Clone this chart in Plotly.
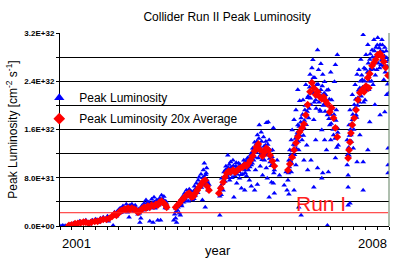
import plotly.graph_objects as go

# ---------------- data (luminosity in units of 1E30 cm^-2 s^-1) ----------------
blue_year = [
    2001.02, 2001.06, 2001.11, 2001.17, 2001.23, 2001.29, 2001.34, 2001.38, 2001.42, 2001.46,
    2001.50, 2001.55, 2001.59, 2001.63, 2001.65, 2001.69, 2001.71, 2001.76, 2001.80, 2001.82,
    2001.86, 2001.90, 2001.92, 2001.97, 2002.01, 2002.03, 2002.07, 2002.11, 2002.13,
    2002.16, 2002.20, 2002.22, 2002.26, 2002.28, 2002.32, 2002.34, 2002.39, 2002.41, 2002.43,
    2002.45, 2002.47, 2002.49, 2002.51, 2002.53, 2002.55, 2002.58, 2002.60, 2002.62, 2002.66,
    2002.68, 2002.70, 2002.72, 2002.74, 2002.76, 2002.79, 2002.81, 2002.83, 2002.85, 2002.87,
    2002.89, 2002.91, 2002.93, 2002.95, 2002.98, 2003.00, 2003.02, 2003.04, 2003.06, 2003.08,
    2003.10, 2003.12, 2003.14, 2003.16, 2003.19, 2003.21, 2003.23, 2003.25, 2003.27,
    2003.42, 2003.44, 2003.46, 2003.46, 2003.48, 2003.50, 2003.52, 2003.54, 2003.56, 2003.56,
    2003.59, 2003.61, 2003.63, 2003.65, 2003.67, 2003.69, 2003.71, 2003.73, 2003.75, 2003.77,
    2003.80, 2003.82, 2003.84, 2003.86, 2003.88, 2003.90, 2003.92, 2003.94, 2003.96, 2003.98,
    2004.00, 2004.03, 2004.03, 2004.05, 2004.07, 2004.07, 2004.09, 2004.09, 2004.11, 2004.13,
    2004.15, 2004.17,
    2004.40, 2004.40, 2004.42, 2004.44, 2004.47, 2004.49, 2004.51, 2004.53, 2004.55, 2004.57,
    2004.59, 2004.61, 2004.63, 2004.65, 2004.68, 2004.70, 2004.72, 2004.74, 2004.76, 2004.78,
    2004.80, 2004.82, 2004.84, 2004.86, 2004.89, 2004.91, 2004.93, 2004.93, 2004.95, 2004.97,
    2004.99, 2005.01, 2005.03, 2005.05, 2005.07, 2005.07, 2005.10, 2005.12, 2005.14, 2005.14,
    2005.16, 2005.18, 2005.20, 2005.20, 2005.22, 2005.24, 2005.24, 2005.26, 2005.28, 2005.28,
    2005.31, 2005.33, 2005.35, 2005.37, 2005.39, 2005.39, 2005.41, 2005.43, 2005.43, 2005.45,
    2005.45, 2005.47, 2005.50, 2005.52, 2005.54, 2005.54, 2005.56, 2005.56, 2005.62, 2005.67,
    2005.77, 2005.81,
    2005.83, 2005.85, 2005.87, 2005.87, 2005.89, 2005.92, 2005.92, 2005.94, 2005.96, 2005.98,
    2005.98, 2006.00, 2006.02, 2006.02, 2006.04, 2006.06, 2006.06, 2006.08, 2006.08, 2006.10,
    2006.13, 2006.13, 2006.15, 2006.17, 2006.19, 2006.19, 2006.21, 2006.23, 2006.25, 2006.27,
    2006.27, 2006.29, 2006.32, 2006.34, 2006.34, 2006.36, 2006.38, 2006.38, 2006.40, 2006.40,
    2006.42, 2006.44, 2006.44, 2006.46, 2006.48, 2006.48, 2006.50, 2006.53, 2006.55, 2006.55,
    2006.57, 2006.57, 2006.59, 2006.59, 2006.61, 2006.63, 2006.63, 2006.65, 2006.67, 2006.69,
    2006.69, 2006.71, 2006.71, 2006.74, 2006.76, 2006.76, 2006.78, 2006.80, 2006.82, 2006.84,
    2006.86, 2006.86, 2006.88, 2006.90, 2006.90, 2006.92,
    2007.11, 2007.11, 2007.13, 2007.13, 2007.13, 2007.15, 2007.15, 2007.17, 2007.17, 2007.19,
    2007.22, 2007.22, 2007.24, 2007.26, 2007.28, 2007.30, 2007.32, 2007.32, 2007.34, 2007.36,
    2007.38, 2007.38, 2007.40, 2007.43, 2007.45, 2007.45, 2007.45, 2007.47, 2007.49, 2007.51,
    2007.53, 2007.55, 2007.55, 2007.57, 2007.59, 2007.59, 2007.61, 2007.64, 2007.66, 2007.68,
    2007.70, 2007.70, 2007.72, 2007.74, 2007.76, 2007.78, 2007.81, 2007.81, 2007.83, 2007.85,
    2007.87, 2007.89, 2007.91, 2007.91, 2007.93, 2007.95, 2007.95, 2007.98, 2007.98, 2007.98,
    2007.98,
]
blue_lum = [
    0, 1, 0.5, 1, 3, 4.5, 3, 6, 8, 5,
    8, 9.5, 4.5, 3, 8, 9.5, 6, 11, 9.5, 6,
    13, 9.5, 14.5, 11, 16, 8, 14.5, 18, 1,
    23, 16, 24.5, 21, 29.5, 24.5, 33, 28, 36, 23,
    33, 14.5, 34.5, 26, 36, 31, 24.5, 34.5, 29.5, 19.5,
    28, 6, 13, 33, 26, 37.8, 31, 43, 28, 36,
    39.4, 8, 33, 44.5, 6, 47.8, 29.5, 37.8, 43, 9.5,
    34.5, 46, 9.5, 51, 44.5, 49, 36, 41, 29.5,
    9.5, 19.5, 13, 29.5, 6, 26, 36, 21, 17.8, 43,
    33, 49, 39.4, 54.4, 44.5, 59.4, 49, 41, 61, 52.7,
    44.5, 43, 57.7, 66, 51, 71, 59.4, 76, 81, 66,
    86, 74, 43, 92.7, 104, 81, 67.7, 31, 87.7, 76,
    59.4, 69,
    17.8, 49.4, 66, 79, 59.4, 89.4, 74, 99, 84, 117.5,
    96, 76, 106, 89.4, 109, 47.8, 82.7, 99, 71, 92.7,
    104, 79, 96, 62.7, 86, 109, 92.7, 59.4, 101, 82.7,
    112.6, 92.7, 76, 117.5, 101, 66, 129, 109, 139, 59.4,
    92.7, 122, 151, 69, 112.6, 167.6, 134, 99, 155.6, 126,
    84, 147.6, 109, 134, 171, 96, 79, 172.6, 117.5, 142.6,
    47.8, 106, 72.5, 126, 162.6, 71, 54.4, 92.7, 109, 84,
    67.7, 89.4,
    59.4, 76, 109, 52.7, 126, 142.6, 89.4, 159, 114, 176,
    59.4, 134, 192.5, 101, 151, 226, 167.6, 126, 31, 207.5,
    17.8, 179, 142.6, 209, 162.6, 109, 192.5, 234, 134, 212.5,
    92.7, 179, 251, 201, 109, 262, 275.7, 222.6, 176, 64.4,
    245.8, 209, 142.6, 234, 292, 96, 259, 192.5, 269, 226,
    159, 79, 251, 87.7, 201, 239, 142.6, 217.5, 126, 184,
    1, 89.4, 226, 167.6, 255, 142.6, 209, 179, 151, 239,
    267.4, 112.6, 192.5, 284, 162.6, 134,
    101, 142.6, 64.4, 34.5, 84, 167.6, 117.5, 37.8, 192.5, 151,
    217.5, 176, 129, 201, 234, 184, 106, 251, 212.5, 259,
    151, 229, 276, 242.5, 317, 106, 59.4, 262, 209, 284,
    245.8, 126, 300.7, 226, 172.6, 276, 259, 292, 234, 309,
    201, 272.5, 296, 259, 312, 284, 184, 300.7, 267.4, 309,
    289, 242.5, 296, 189, 272.5, 217.5, 279, 129, 101, 87.7,
    251,
]
# additional stores in the dense bands
blue_year2 = [
    2002.18, 2002.25, 2002.30, 2002.36, 2002.40, 2002.44, 2002.48, 2002.52, 2002.56, 2002.59,
    2002.64, 2002.69, 2002.73, 2002.78, 2002.82, 2002.86, 2002.90, 2002.94, 2002.97, 2003.01,
    2003.05, 2003.09, 2003.13, 2003.17, 2003.20, 2003.24, 2003.26,
    2003.47, 2003.51, 2003.55, 2003.58, 2003.62, 2003.66, 2003.70, 2003.74, 2003.78, 2003.81,
    2003.85, 2003.89, 2003.93, 2003.97, 2004.01, 2004.04, 2004.08, 2004.10, 2004.14, 2004.16,
    2004.12,
    2004.43, 2004.46, 2004.50, 2004.52, 2004.56, 2004.58, 2004.60, 2004.62, 2004.64, 2004.66,
    2004.69, 2004.71, 2004.73, 2004.75, 2004.77, 2004.79, 2004.81, 2004.83, 2004.85, 2004.87,
    2004.90, 2004.92, 2004.94, 2004.96, 2004.98, 2005.00, 2005.02, 2005.04, 2005.06, 2005.08,
    2005.09, 2005.11, 2005.13, 2005.15, 2005.17, 2005.19, 2005.21, 2005.23, 2005.25, 2005.27,
    2005.29, 2005.30, 2005.32, 2005.34, 2005.36, 2005.38, 2005.40, 2005.42, 2005.44, 2005.46,
    2005.48, 2005.49, 2005.51, 2005.53, 2005.55,
    2005.86, 2005.88, 2005.90, 2005.91, 2005.93, 2005.95, 2005.97, 2005.99, 2006.01, 2006.03,
    2006.05, 2006.07, 2006.09, 2006.11, 2006.12, 2006.14, 2006.16, 2006.18, 2006.20, 2006.22,
    2006.24, 2006.26, 2006.28, 2006.30, 2006.31, 2006.33, 2006.35, 2006.37, 2006.39, 2006.41,
    2006.43, 2006.45, 2006.47, 2006.49, 2006.51, 2006.52, 2006.54, 2006.56, 2006.58, 2006.60,
    2006.62, 2006.64, 2006.66, 2006.68, 2006.70, 2006.72, 2006.73, 2006.75, 2006.77, 2006.79,
    2006.81, 2006.83, 2006.85, 2006.87, 2006.89, 2006.91,
    2007.12, 2007.14, 2007.16, 2007.18, 2007.20, 2007.21, 2007.23, 2007.25, 2007.27, 2007.29,
    2007.31, 2007.33, 2007.35, 2007.37, 2007.39, 2007.41, 2007.42, 2007.44, 2007.46, 2007.48,
    2007.50, 2007.52, 2007.54, 2007.56, 2007.58, 2007.60, 2007.62, 2007.63, 2007.65, 2007.67,
    2007.69, 2007.71, 2007.73, 2007.75, 2007.77, 2007.79, 2007.80, 2007.82, 2007.84, 2007.86,
    2007.88, 2007.90, 2007.92, 2007.94, 2007.96, 2007.97, 2007.99, 2007.99,
]
blue_lum2 = [
    20, 27, 22, 30, 25, 31, 30, 33, 29, 31,
    26, 21, 30, 34, 27, 39, 35, 30, 38, 40,
    33, 41, 36, 38, 42, 30, 38,
    24, 31, 40, 36, 45, 42, 50, 48, 58, 50,
    45, 62, 55, 70, 64, 80, 70, 85, 72, 63,
    96,
    52, 70, 82, 93, 95, 80, 102, 86, 97, 80,
    100, 88, 94, 105, 86, 97, 90, 102, 85, 99,
    95, 104, 88, 108, 96, 100, 112, 98, 108, 122,
    104, 118, 128, 114, 135, 140, 125, 145, 130, 118,
    140, 110, 125, 132, 120, 140, 118, 135, 128, 112,
    125, 100, 115, 104, 88,
    88, 98, 108, 118, 104, 125, 135, 118, 145, 128,
    155, 140, 165, 150, 172, 160, 185, 150, 175, 200,
    168, 190, 215, 195, 230, 212, 240, 220, 246, 205,
    228, 195, 215, 235, 205, 222, 190, 215, 232, 200,
    220, 190, 208, 225, 200, 178, 210, 185, 170, 195,
    160, 185, 145, 175, 130, 155,
    118, 130, 150, 160, 140, 170, 185, 160, 195, 210,
    180, 200, 225, 205, 240, 215, 250, 230, 205, 240,
    260, 225, 255, 270, 240, 285, 262, 240, 280, 260,
    290, 250, 282, 300, 270, 295, 262, 290, 275, 300,
    265, 282, 255, 290, 265, 235, 275, 220,
]

red_year = [
    2001.19, 2001.25, 2001.32, 2001.38, 2001.44, 2001.50, 2001.55,
    2001.61, 2001.67, 2001.74, 2001.80, 2001.86, 2001.92, 2001.99, 2002.05, 2002.11, 2002.16,
    2002.20, 2002.24, 2002.28, 2002.32, 2002.37, 2002.41, 2002.45, 2002.49, 2002.53, 2002.58,
    2002.62, 2002.66, 2002.70, 2002.74, 2002.79, 2002.83, 2002.87, 2002.91, 2002.95, 2003.00,
    2003.04, 2003.08, 2003.12, 2003.16, 2003.21, 2003.25, 2003.27,
    2003.46, 2003.50, 2003.54, 2003.59, 2003.63, 2003.67, 2003.71, 2003.75, 2003.80, 2003.84,
    2003.88, 2003.92, 2003.96, 2004.00, 2004.05, 2004.09, 2004.13, 2004.17,
    2004.38, 2004.42, 2004.47, 2004.51, 2004.55, 2004.59, 2004.63, 2004.68, 2004.72, 2004.76,
    2004.80, 2004.84, 2004.89, 2004.93, 2004.97, 2005.01, 2005.05, 2005.10, 2005.14, 2005.18,
    2005.22, 2005.26, 2005.31, 2005.35, 2005.39, 2005.43, 2005.47, 2005.52, 2005.56,
    2005.85, 2005.89, 2005.94, 2005.98, 2006.02, 2006.06, 2006.10, 2006.15, 2006.19, 2006.23,
    2006.27, 2006.32, 2006.36, 2006.40, 2006.44, 2006.48, 2006.53, 2006.57, 2006.61, 2006.65,
    2006.69, 2006.74, 2006.78, 2006.82, 2006.86, 2006.90,
    2007.13, 2007.15, 2007.17, 2007.19, 2007.22, 2007.26, 2007.30, 2007.34, 2007.38, 2007.43,
    2007.47, 2007.51, 2007.55, 2007.57, 2007.59, 2007.64, 2007.68, 2007.72, 2007.76, 2007.81,
    2007.85, 2007.89, 2007.93, 2007.98,
]
red_lum = [
    1.2, 2, 3.7, 4.5, 5.3, 6.2, 6.2,
    4.5, 6.2, 7.8, 7.8, 9.5, 11, 11, 12.8, 16, 19.5,
    17.8, 21, 24.5, 26, 27.8, 27.8, 29.5, 27.8, 29.5, 27.8,
    26, 22.8, 24.5, 27.8, 31, 29.5, 33, 31, 34.5, 33,
    36, 34.5, 39.4, 41, 37.8, 34.5, 31,
    31, 34.5, 37.8, 43, 46, 49, 52.7, 54.4, 47.8, 49,
    54.4, 59.4, 64.4, 69, 74, 76, 66, 59.4,
    54.4, 62.7, 72.5, 81, 87.7, 91, 89.4, 92.7, 89.4, 91,
    94.3, 96, 97.7, 101, 99.3, 104, 109, 116, 124, 131,
    136, 126, 116, 122, 129, 126, 117.5, 107.6, 99.3,
    92.7, 102.6, 114, 126, 137.6, 147.6, 156, 162.6, 169, 184,
    201, 222.6, 237.5, 229, 217.5, 222.6, 214, 211, 214, 207.5,
    202.5, 189, 196, 179, 162.6, 147.6,
    112.6, 126, 139, 154, 167.6, 179, 192.5, 209, 220.8, 226,
    222.6, 232, 245.8, 229, 252.4, 265.7, 270.8, 276, 284, 285.7,
    280.7, 272.5, 262.8, 249.6,
]

run1_lum = 22
y_ticks = [0, 80, 160, 240, 320]
y_tick_text = ["0.0E+00", "8.0E+31", "1.6E+32", "2.4E+32", "3.2E+32"]
y_grid_step = 40
x_start, x_end = 2001, 2008
x_labels = ["2001", "2008"]

FONT = "Liberation Sans, Arial, sans-serif"

fig = go.Figure()
fig.add_trace(go.Scatter(
    x=blue_year + blue_year2, y=blue_lum + blue_lum2, mode="markers", showlegend=False,
    marker=dict(symbol="triangle-up", size=5, color="#0000ff", line=dict(width=0)),
))
fig.add_trace(go.Scatter(
    x=red_year, y=red_lum, mode="markers", showlegend=False,
    marker=dict(symbol="diamond", size=6, color="#ff0000", line=dict(width=0)),
))
# legend-only entries
fig.add_trace(go.Scatter(
    x=[None], y=[None], mode="markers", name="Peak Luminosity", legendgroup="a",
    marker=dict(symbol="triangle-up", size=9, color="#0000ff", line=dict(width=0)),
))
fig.add_trace(go.Scatter(
    x=[None], y=[None], mode="markers", name="Peak Luminosity 20x Average", legendgroup="b",
    marker=dict(symbol="diamond", size=9, color="#ff0000", line=dict(width=0)),
))

quarters = [x_start + 0.25 * i for i in range(int((x_end - x_start) * 4) + 1)]

fig.update_layout(
    width=407, height=263,
    margin=dict(l=56, r=18, t=33, b=37),
    paper_bgcolor="white", plot_bgcolor="white",
    font=dict(family=FONT, color="black"),
    title=dict(text="Collider Run II Peak Luminosity", x=0.558, xanchor="center",
               y=1 - 17 / 263, yanchor="middle", font=dict(size=12, color="black")),
    legend=dict(x=-0.063, y=0.74, xanchor="left", yanchor="top",
                bgcolor="rgba(0,0,0,0)", font=dict(size=12, color="black"),
                tracegroupgap=2, traceorder="grouped"),
    xaxis=dict(range=[x_start, x_end], showgrid=False, zeroline=False,
               showline=True, linecolor="black", linewidth=1,
               tickmode="array", tickvals=quarters, ticks="outside", ticklen=3,
               tickcolor="black", showticklabels=False),
    yaxis=dict(range=[0, 320], showgrid=True, gridcolor="black", gridwidth=1,
               zeroline=False, showline=True, linecolor="black", linewidth=1,
               tickmode="array", tickvals=y_ticks,
               ticktext=["<b>%s</b>" % t for t in y_tick_text],
               ticks="outside", ticklen=3, tickcolor="black",
               tickfont=dict(size=8, color="black"),
               minor=dict(tickmode="linear", tick0=0, dtick=y_grid_step, showgrid=True,
                          gridcolor="black", gridwidth=1, ticks="outside", ticklen=3,
                          tickcolor="black"),
               title=dict(text="Peak Luminosity [cm<sup>-2</sup> s<sup>-1</sup>]",
                          font=dict(size=12, color="black"), standoff=4)),
    shapes=[
        dict(type="line", xref="x", yref="y", x0=x_start, x1=x_end - 0.02,
             y0=run1_lum, y1=run1_lum, line=dict(color="#ff2020", width=1)),
        dict(type="line", xref="paper", yref="paper", x0=1, x1=1, y0=0, y1=1,
             line=dict(color="#5f7f5f", width=1)),
    ],
    annotations=[
        dict(text="Run I", x=2006.55, y=run1_lum, xref="x", yref="y",
             xanchor="center", yanchor="bottom", yshift=-4, showarrow=False,
             font=dict(size=21, color="#ff2020")),
        dict(text=x_labels[0], x=0, y=-0.04, xref="paper", yref="paper",
             xanchor="left", yanchor="top", showarrow=False, font=dict(size=13)),
        dict(text=x_labels[1], x=1, y=-0.04, xref="paper", yref="paper",
             xanchor="right", yanchor="top", showarrow=False, font=dict(size=13)),
        dict(text="year", x=0.48, y=-0.1295, xref="paper", yref="paper",
             xanchor="center", yanchor="middle", showarrow=False, font=dict(size=13)),
    ],
)

fig.write_html("out.html",
               config={"displayModeBar": False},
               post_script="document.body.style.margin='0px';document.body.style.padding='0px';")
